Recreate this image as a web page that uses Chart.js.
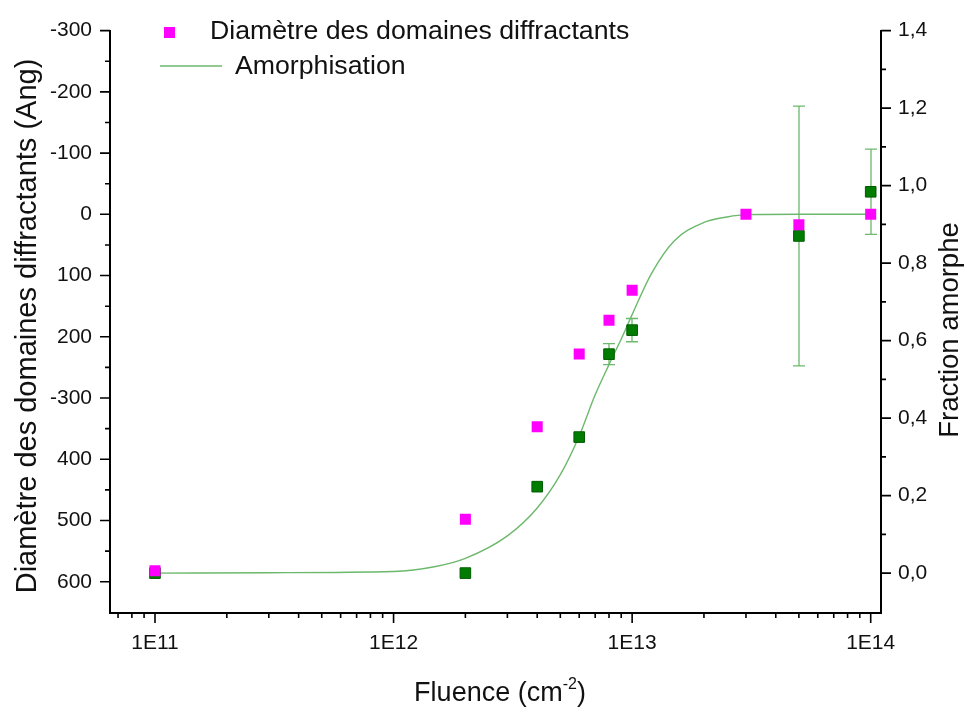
<!DOCTYPE html>
<html>
<head>
<meta charset="utf-8">
<script src="https://cdn.jsdelivr.net/npm/chart.js@4.4.0/dist/chart.umd.min.js"></script>
<style>
  body { margin: 0; background: #fff; }
</style>
</head>
<body>
<canvas id="chart" width="967" height="713"></canvas>
<script>
// Diamètre des domaines (axe de gauche, inversé)
const fluence = [1e11, 2e12, 4e12, 6e12, 8e12, 1e13, 3e13, 5e13, 1e14];
const diametre = [582, 498, 347, 228, 173, 124, 0, 17, 0];

// Fraction amorphe mesurée (axe de droite)
const fluenceAmorph = [1e11, 2e12, 4e12, 6e12, 8e12, 1e13, 5e13, 1e14];
const fraction = [0, 0, 0.223, 0.351, 0.565, 0.627, 0.870, 0.984];
const fractionErr = [0, 0, 0, 0, 0.027, 0.03, 0.335, 0.11];

// Courbe d'amorphisation
const fitFluence = [1e11, 3e11, 1e12, 1.5e12, 2e12, 3e12, 4e12, 5e12, 6e12, 7e12, 8e12, 9e12, 1e13, 1.2e13, 1.5e13, 2e13, 2.5e13, 3e13, 5e13, 1e14];
const fitFraction = [0, 0.001, 0.004, 0.017, 0.038, 0.096, 0.168, 0.254, 0.354, 0.46, 0.538, 0.604, 0.667, 0.771, 0.857, 0.905, 0.919, 0.925, 0.926, 0.926];

// Graduations
const xTickValues = [1e11, 1e12, 1e13, 1e14];
const xTickLabels = ['1E11', '1E12', '1E13', '1E14'];
const leftTickValues = [-300, -200, -100, 0, 100, 200, 300, 400, 500, 600];
const leftTickLabels = ['-300', '-200', '-100', '0', '100', '200', '-300', '400', '500', '600'];
const rightTickValues = [0, 0.2, 0.4, 0.6, 0.8, 1.0, 1.2, 1.4];
const rightTickLabels = ['0,0', '0,2', '0,4', '0,6', '0,8', '1,0', '1,2', '1,4'];

const FONT = "'Liberation Sans', Arial, sans-serif";
const MAGENTA = '#ff00ff';
const DKGREEN = '#007d00';
const LTGREEN = '#6cb86c';

function labelFrom(values, labels) {
  return (v) => {
    const i = values.findIndex(t => Math.abs(t - v) < 1e-9 * Math.max(1, Math.abs(t)));
    return i >= 0 ? labels[i] : '';
  };
}

const decor = {
  id: 'decor',
  beforeDatasetsDraw(chart) {
    // barres d'erreur
    const ctx = chart.ctx, x = chart.scales.x, y2 = chart.scales.y2;
    ctx.save();
    ctx.strokeStyle = LTGREEN;
    ctx.lineWidth = 1.3;
    fluenceAmorph.forEach((f, i) => {
      const e = fractionErr[i];
      if (!e) return;
      const px = Math.round(x.getPixelForValue(f));
      const top = y2.getPixelForValue(fraction[i] + e);
      const bot = y2.getPixelForValue(fraction[i] - e);
      ctx.beginPath();
      ctx.moveTo(px, top); ctx.lineTo(px, bot);
      ctx.moveTo(px - 6, top); ctx.lineTo(px + 6, top);
      ctx.moveTo(px - 6, bot); ctx.lineTo(px + 6, bot);
      ctx.stroke();
    });
    ctx.restore();
  },
  afterDraw(chart) {
    const ctx = chart.ctx;
    const {x, y, y2} = chart.scales;
    const area = chart.chartArea;
    ctx.save();
    ctx.strokeStyle = '#000';
    ctx.lineWidth = 1.6;

    // graduations de l'axe x (log)
    ctx.beginPath();
    for (let e = 10; e <= 14; e++) {
      for (let m = 1; m <= 9; m++) {
        const v = m * Math.pow(10, e);
        if (v < x.min || v > x.max) continue;
        const px = x.getPixelForValue(v);
        const len = m === 1 ? 10 : 5;
        ctx.moveTo(px, area.bottom); ctx.lineTo(px, area.bottom + len);
      }
    }
    // axe gauche
    for (let v = -300; v <= 600; v += 50) {
      const py = y.getPixelForValue(v);
      const len = v % 100 === 0 ? 10 : 5;
      ctx.moveTo(area.left, py); ctx.lineTo(area.left - len, py);
    }
    // axe droit
    for (let k = 0; k <= 14; k++) {
      const py = y2.getPixelForValue(k / 10);
      const len = k % 2 === 0 ? 10 : 5;
      ctx.moveTo(area.right, py); ctx.lineTo(area.right + len, py);
    }
    ctx.stroke();

    // titres des axes
    ctx.fillStyle = '#111';
    ctx.textAlign = 'center';
    ctx.textBaseline = 'middle';
    ctx.font = '29px ' + FONT;
    ctx.save();
    ctx.translate(28, 326);
    ctx.rotate(-Math.PI / 2);
    ctx.fillText('Diamètre des domaines diffractants (Ang)', 0, 0);
    ctx.restore();
    ctx.font = '27.5px ' + FONT;
    ctx.save();
    ctx.translate(950, 330);
    ctx.rotate(-Math.PI / 2);
    ctx.fillText('Fraction amorphe', 0, 0);
    ctx.restore();

    // Fluence (cm-2) avec exposant
    ctx.textAlign = 'left';
    ctx.textBaseline = 'alphabetic';
    const big = '27px ' + FONT, small = '16px ' + FONT;
    ctx.font = big;
    const w1 = ctx.measureText('Fluence (cm').width;
    const w3 = ctx.measureText(')').width;
    ctx.font = small;
    const w2 = ctx.measureText('-2').width;
    let tx = 500 - (w1 + w2 + w3) / 2;
    const base = 701;
    ctx.font = big;
    ctx.fillText('Fluence (cm', tx, base);
    tx += w1;
    ctx.font = small;
    ctx.fillText('-2', tx, base - 12);
    tx += w2;
    ctx.font = big;
    ctx.fillText(')', tx, base);

    // légende
    const ds = chart.data.datasets;
    ctx.fillStyle = MAGENTA;
    ctx.fillRect(164, 27, 11, 11);
    ctx.strokeStyle = LTGREEN;
    ctx.lineWidth = 1.3;
    ctx.beginPath();
    ctx.moveTo(160, 66); ctx.lineTo(222, 66);
    ctx.stroke();
    ctx.fillStyle = '#111';
    ctx.font = '26.7px ' + FONT;
    ctx.textBaseline = 'middle';
    ctx.fillText(ds[0].label, 210, 32);
    ctx.fillText(ds[2].label, 235, 67);
    ctx.restore();
  }
};

const ctx = document.getElementById('chart').getContext('2d');
new Chart(ctx, {
  type: 'scatter',
  data: {
    datasets: [
      {
        label: 'Diamètre des domaines diffractants',
        data: fluence.map((f, i) => ({ x: f, y: diametre[i] })),
        yAxisID: 'y',
        pointStyle: 'rect',
        pointRadius: 7.8,
        backgroundColor: MAGENTA,
        borderColor: MAGENTA,
        borderWidth: 0
      },
      {
        label: 'Fraction amorphe',
        data: fluenceAmorph.map((f, i) => ({ x: f, y: fraction[i] })),
        yAxisID: 'y2',
        pointStyle: 'rect',
        pointRadius: 7.5,
        backgroundColor: DKGREEN,
        borderColor: '#005c00',
        borderWidth: 1
      },
      {
        label: 'Amorphisation',
        data: fitFluence.map((f, i) => ({ x: f, y: fitFraction[i] })),
        yAxisID: 'y2',
        showLine: true,
        pointRadius: 0,
        borderColor: LTGREEN,
        borderWidth: 1.4,
        cubicInterpolationMode: 'monotone'
      }
    ]
  },
  options: {
    responsive: false,
    animation: false,
    layout: { padding: { top: 20, left: 0, right: 0, bottom: 0 } },
    plugins: { legend: { display: false }, tooltip: { enabled: false } },
    scales: {
      x: {
        type: 'logarithmic',
        min: 6.477e10,
        max: 1.1045e14,
        afterBuildTicks: (s) => { s.ticks = xTickValues.map(v => ({ value: v })); },
        afterFit: (s) => { s.height = 100; },
        grid: { display: false, drawTicks: false },
        border: { display: true, color: '#000', width: 2 },
        ticks: {
          autoSkip: false, maxRotation: 0, padding: 18, color: '#111',
          font: { size: 21, family: FONT },
          callback: labelFrom(xTickValues, xTickLabels)
        }
      },
      y: {
        position: 'left',
        reverse: true,
        min: -300,
        max: 651,
        afterBuildTicks: (s) => { s.ticks = leftTickValues.map(v => ({ value: v })); },
        afterFit: (s) => { s.width = 110; },
        grid: { display: false, drawTicks: false },
        border: { display: true, color: '#000', width: 2 },
        ticks: {
          autoSkip: false, padding: 18, color: '#111',
          font: { size: 21, family: FONT },
          callback: labelFrom(leftTickValues, leftTickLabels)
        }
      },
      y2: {
        position: 'right',
        min: -0.103,
        max: 1.4,
        afterBuildTicks: (s) => { s.ticks = rightTickValues.map(v => ({ value: v })); },
        afterFit: (s) => { s.width = 86; },
        grid: { display: false, drawTicks: false },
        border: { display: true, color: '#000', width: 2 },
        ticks: {
          autoSkip: false, padding: 17, color: '#111',
          font: { size: 21, family: FONT },
          callback: labelFrom(rightTickValues, rightTickLabels)
        }
      }
    }
  },
  plugins: [decor]
});
</script>
</body>
</html>
